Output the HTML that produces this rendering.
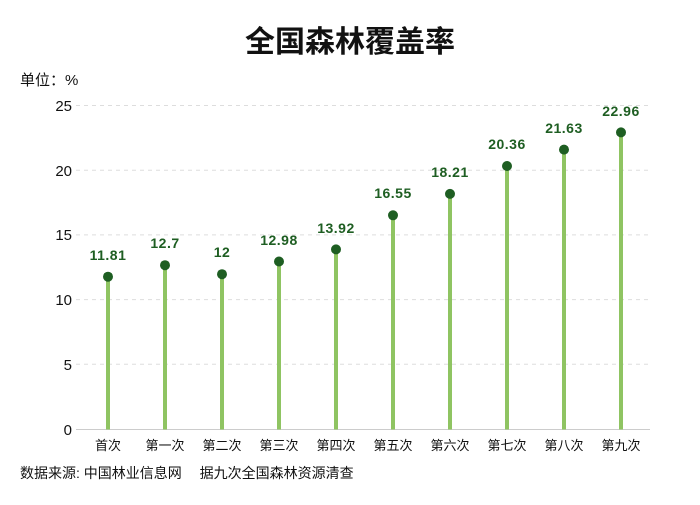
<!DOCTYPE html>
<html><head><meta charset="utf-8"><style>
body{margin:0;background:#fff;}
svg text{font-family:"Liberation Sans","Noto Sans CJK SC",sans-serif;}
.v{font-size:14px;font-weight:bold;fill:#1e5e22;text-anchor:middle;letter-spacing:0.5px;}
.c{font-size:13px;fill:#111;text-anchor:middle;}
</style></head><body>
<svg width="700" height="500" xmlns="http://www.w3.org/2000/svg">
<rect width="700" height="500" fill="#fff"/>
<text x="350" y="52" text-anchor="middle" font-size="30" font-weight="bold" fill="#111">全国森林覆盖率</text>
<text x="20" y="85" font-size="15" fill="#111">单位：%</text>
<g stroke="#ddd" stroke-dasharray="4,4" stroke-width="1">
<line x1="76" x2="650" y1="105.5" y2="105.5"/>
<line x1="76" x2="650" y1="170.2" y2="170.2"/>
<line x1="76" x2="650" y1="234.9" y2="234.9"/>
<line x1="76" x2="650" y1="299.6" y2="299.6"/>
<line x1="76" x2="650" y1="364.3" y2="364.3"/>
</g>
<line x1="76" x2="650" y1="429.5" y2="429.5" stroke="#ccc"/>
<g font-size="15" fill="#111" text-anchor="end">
<text x="72" y="111">25</text><text x="72" y="176">20</text><text x="72" y="240">15</text>
<text x="72" y="305">10</text><text x="72" y="370">5</text><text x="72" y="435">0</text>
</g>
<g stroke="#8fc462" stroke-width="4">
<line x1="108" x2="108" y1="276.7" y2="429.5"/>
<line x1="165" x2="165" y1="265.2" y2="429.5"/>
<line x1="222" x2="222" y1="274.2" y2="429.5"/>
<line x1="279" x2="279" y1="261.5" y2="429.5"/>
<line x1="336" x2="336" y1="249.4" y2="429.5"/>
<line x1="393" x2="393" y1="215.3" y2="429.5"/>
<line x1="450" x2="450" y1="193.9" y2="429.5"/>
<line x1="507" x2="507" y1="166.0" y2="429.5"/>
<line x1="564" x2="564" y1="149.6" y2="429.5"/>
<line x1="621" x2="621" y1="132.4" y2="429.5"/>
</g>
<g fill="#1e5e22">
<circle cx="108" cy="276.7" r="5"/><circle cx="165" cy="265.2" r="5"/><circle cx="222" cy="274.2" r="5"/>
<circle cx="279" cy="261.5" r="5"/><circle cx="336" cy="249.4" r="5"/><circle cx="393" cy="215.3" r="5"/>
<circle cx="450" cy="193.9" r="5"/><circle cx="507" cy="166.0" r="5"/><circle cx="564" cy="149.6" r="5"/>
<circle cx="621" cy="132.4" r="5"/>
</g>
<text class="v" x="108" y="260">11.81</text>
<text class="v" x="165" y="248">12.7</text>
<text class="v" x="222" y="257">12</text>
<text class="v" x="279" y="245">12.98</text>
<text class="v" x="336" y="233">13.92</text>
<text class="v" x="393" y="198">16.55</text>
<text class="v" x="450" y="177">18.21</text>
<text class="v" x="507" y="149">20.36</text>
<text class="v" x="564" y="133">21.63</text>
<text class="v" x="621" y="116">22.96</text>
<text class="c" x="108" y="450">首次</text>
<text class="c" x="165" y="450">第一次</text>
<text class="c" x="222" y="450">第二次</text>
<text class="c" x="279" y="450">第三次</text>
<text class="c" x="336" y="450">第四次</text>
<text class="c" x="393" y="450">第五次</text>
<text class="c" x="450" y="450">第六次</text>
<text class="c" x="507" y="450">第七次</text>
<text class="c" x="564" y="450">第八次</text>
<text class="c" x="621" y="450">第九次</text>
<text x="20" y="478" font-size="14" fill="#111">数据来源: 中国林业信息网　 据九次全国森林资源清查</text>
</svg>
</body></html>
